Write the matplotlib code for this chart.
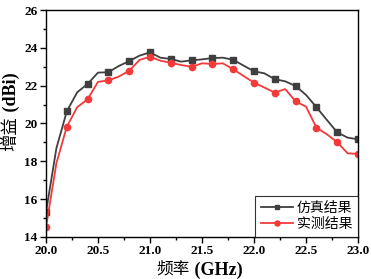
import matplotlib
matplotlib.use("Agg")
import matplotlib.pyplot as plt
from matplotlib.ticker import MultipleLocator

freq = [20.0, 20.1, 20.2, 20.3, 20.4, 20.5, 20.6, 20.7, 20.8, 20.9, 21.0,
        21.1, 21.2, 21.3, 21.4, 21.5, 21.6, 21.7, 21.8, 21.9, 22.0,
        22.1, 22.2, 22.3, 22.4, 22.5, 22.6, 22.7, 22.8, 22.9, 23.0]
sim = [15.31, 18.69, 20.64, 21.65, 22.09, 22.69, 22.71, 23.04, 23.30, 23.59, 23.76,
       23.48, 23.41, 23.27, 23.34, 23.39, 23.46, 23.48, 23.37, 23.06, 22.76,
       22.65, 22.34, 22.23, 21.98, 21.51, 20.86, 20.19, 19.53, 19.25, 19.16]
meas = [14.51, 17.90, 19.83, 20.86, 21.28, 22.20, 22.28, 22.48, 22.79, 23.36, 23.53,
        23.32, 23.21, 23.09, 23.00, 23.18, 23.15, 23.18, 22.87, 22.51, 22.16,
        21.90, 21.63, 21.82, 21.17, 20.89, 19.78, 19.43, 19.01, 18.42, 18.39]
labels = ["仿真结果", "实测结果"]

fam = ['Liberation Serif', 'Noto Sans CJK SC']
plt.rcParams['font.family'] = fam

fig = plt.figure(figsize=(3.71, 2.79), dpi=100)
ax = fig.add_axes([0.124, 0.151, 0.841, 0.813])

ax.plot(freq, sim, color='#3f3f3f', lw=1.3, marker='s', ms=3.9, markevery=2, label=labels[0])
ax.plot(freq, meas, color='#f23a3a', lw=1.3, marker='o', ms=4.5, markevery=2, label=labels[1])

ax.set_xlim(20.0, 23.0)
ax.set_ylim(14, 26)
ax.xaxis.set_major_locator(MultipleLocator(0.5))
ax.xaxis.set_minor_locator(MultipleLocator(0.25))
ax.yaxis.set_major_locator(MultipleLocator(2))
ax.yaxis.set_minor_locator(MultipleLocator(1))
ax.tick_params(which='both', direction='out', top=False, right=False, width=1.0)
ax.tick_params(which='major', length=4, labelsize=9.5, pad=2)
ax.tick_params(which='minor', length=2.5)
ax.xaxis.set_major_formatter(plt.FuncFormatter(lambda v, p: f"{v:.1f}"))
ax.yaxis.set_major_formatter(plt.FuncFormatter(lambda v, p: f"{v:.0f}"))
for lab in ax.get_xticklabels() + ax.get_yticklabels():
    lab.set_fontweight('bold')
    lab.set_family('Liberation Serif')
for s in ax.spines.values():
    s.set_linewidth(1.0)

# x label: regular CJK + bold Latin
fig.text(0.512, 0.032, "频率", fontsize=12, family=fam, ha='right', va='center')
fig.text(0.512, 0.032, " (GHz)", fontsize=13, fontweight='bold', family='Liberation Serif',
         ha='left', va='center')
# y label
fig.text(0.03, 0.584, "增益", fontsize=12.5, family=fam, rotation=90, ha='center', va='top')
fig.text(0.03, 0.584, " (dBi)", fontsize=13, fontweight='bold', family='Liberation Serif',
         rotation=90, ha='center', va='bottom')

leg = ax.legend(loc='lower right', frameon=True, fancybox=False,
                edgecolor='black', borderaxespad=0, handlelength=2.3,
                handletextpad=0.3, labelspacing=0.25, borderpad=0.4,
                prop={'family': fam, 'size': 10}, markerscale=0.8)
leg.get_frame().set_linewidth(0.8)

fig.savefig("out.png", dpi=100)
